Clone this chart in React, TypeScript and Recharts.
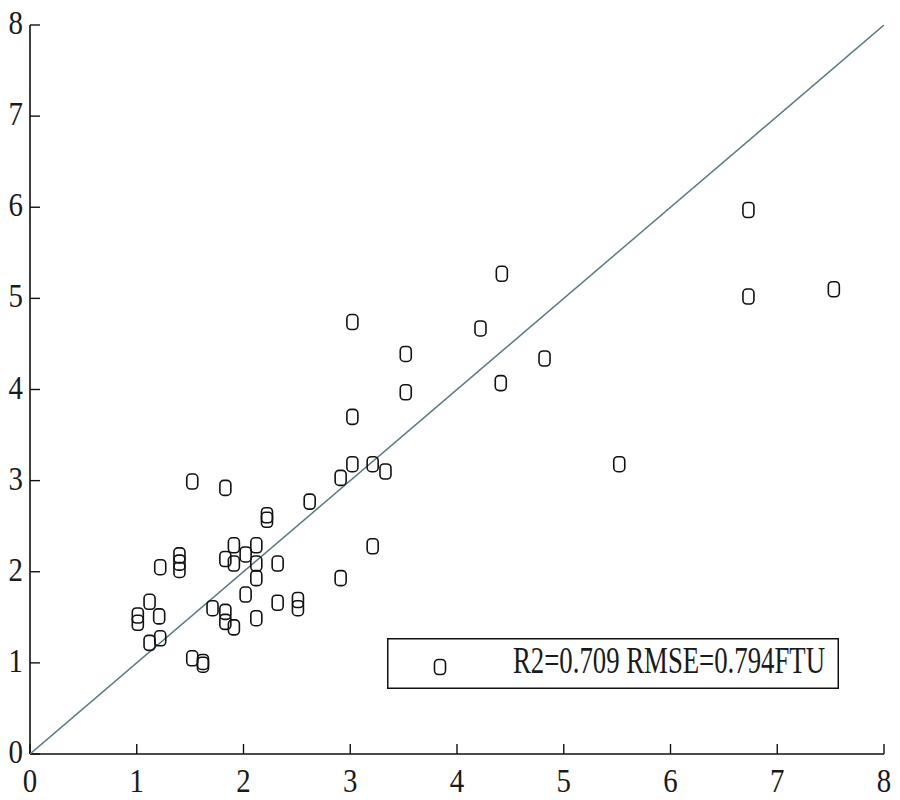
import {
  ScatterChart,
  Scatter,
  XAxis,
  YAxis,
  Legend,
} from "recharts";

// measured (x) vs retrieved (y) turbidity, FTU
const measured = [
  1.01, 1.01, 1.12, 1.12, 1.21, 1.22, 1.22, 1.4, 1.4, 1.4,
  1.52, 1.52, 1.62, 1.62, 1.71, 1.83, 1.83, 1.83, 1.83, 1.91,
  1.91, 1.91, 2.02, 2.02, 2.12, 2.12, 2.12, 2.12, 2.22, 2.22,
  2.32, 2.32, 2.51, 2.51, 2.62, 2.91, 2.91, 3.02, 3.02, 3.02,
  3.21, 3.21, 3.33, 3.52, 3.52, 4.22, 4.42, 4.41, 4.82, 5.52,
  6.73, 6.73, 7.53,
];
const retrieved = [
  1.52, 1.44, 1.67, 1.22, 1.51, 1.27, 2.05, 2.18, 2.1, 2.02,
  2.99, 1.05, 1.01, 0.98, 1.6, 2.92, 2.14, 1.56, 1.45, 2.29,
  2.09, 1.39, 2.19, 1.75, 2.29, 2.09, 1.93, 1.49, 2.62, 2.57,
  2.09, 1.66, 1.69, 1.6, 2.77, 3.03, 1.93, 4.74, 3.7, 3.18,
  3.18, 2.28, 3.1, 4.39, 3.97, 4.67, 5.27, 4.07, 4.34, 3.18,
  5.97, 5.02, 5.1,
];
const lineX = [0, 8];
const lineY = [0, 8];
const ticks = [0, 1, 2, 3, 4, 5, 6, 7, 8];
const legendLabel = "R2=0.709 RMSE=0.794FTU";

const points = measured.map((x, i) => ({ x, y: retrieved[i] }));
const diagonal = lineX.map((x, i) => ({ x, y: lineY[i] }));

const FONT = "'Liberation Serif', 'Times New Roman', serif";

const Marker = (props: any) => {
  const { cx, cy } = props;
  if (cx == null || cy == null) return <g />;
  return (
    <rect
      x={cx - 5.5}
      y={cy - 7.5}
      width={11}
      height={15}
      rx={4}
      fill="none"
      stroke="#111"
      strokeWidth={1.6}
    />
  );
};

const XTick = ({ x, y, payload }: any) => (
  <text
    x={0}
    y={0}
    transform={`translate(${x},${y + 38}) scale(0.85,1)`}
    textAnchor="middle"
    fontFamily={FONT}
    fontSize={34}
    fill="#1a1a1a"
  >
    {payload.value}
  </text>
);

const YTick = ({ x, y, payload }: any) => (
  <text
    x={0}
    y={0}
    transform={`translate(${x - 7},${y + 9}) scale(0.85,1)`}
    textAnchor="end"
    fontFamily={FONT}
    fontSize={34}
    fill="#1a1a1a"
  >
    {payload.value}
  </text>
);

const NoTick = () => <g />;

const renderLegend = () => (
  <svg width={452} height={51} style={{ display: "block" }}>
    <rect
      x={0.75}
      y={0.75}
      width={450.5}
      height={49.5}
      fill="#fff"
      stroke="#111"
      strokeWidth={1.5}
    />
    <rect
      x={47.5}
      y={21.5}
      width={11}
      height={15}
      rx={4}
      fill="none"
      stroke="#111"
      strokeWidth={1.6}
    />
    <text
      x={126}
      y={35}
      textLength={312}
      lengthAdjust="spacingAndGlyphs"
      fontFamily={FONT}
      fontSize={37}
      fill="#1a1a1a"
    >
      {legendLabel}
    </text>
  </svg>
);

const axisLine = { stroke: "#111", strokeWidth: 1.6 };
const tickLine = { stroke: "#111", strokeWidth: 1.4 };

export default function App() {
  return (
    <ScatterChart
      width={884}
      height={792}
      margin={{ top: 17, right: 8, left: 0, bottom: 0 }}
    >
      <XAxis
        type="number"
        dataKey="x"
        domain={[0, 8]}
        ticks={ticks}
        height={46}
        tickSize={-10}
        tickMargin={10}
        axisLine={axisLine}
        tickLine={tickLine}
        tick={<XTick />}
        allowDataOverflow
      />
      <YAxis
        type="number"
        dataKey="y"
        domain={[0, 8]}
        ticks={ticks}
        width={22}
        tickSize={-10}
        tickMargin={10}
        axisLine={axisLine}
        tickLine={tickLine}
        tick={<YTick />}
        allowDataOverflow
      />
      <XAxis
        xAxisId="top"
        orientation="top"
        type="number"
        dataKey="x"
        domain={[0, 8]}
        ticks={ticks}
        height={0}
        tickSize={-10}
        axisLine={axisLine}
        tickLine={tickLine}
        tick={<NoTick />}
        allowDataOverflow
      />
      <YAxis
        yAxisId="right"
        orientation="right"
        type="number"
        dataKey="y"
        domain={[0, 8]}
        ticks={ticks}
        width={0}
        tickSize={-10}
        axisLine={axisLine}
        tickLine={tickLine}
        tick={<NoTick />}
        allowDataOverflow
      />
      <Scatter
        data={diagonal}
        xAxisId="top"
        yAxisId="right"
        line={{ stroke: "#5c7883", strokeWidth: 1.5 }}
        shape={<NoTick />}
        legendType="none"
        isAnimationActive={false}
      />
      <Scatter
        data={points}
        shape={<Marker />}
        isAnimationActive={false}
      />
      <Legend
        layout="horizontal"
        verticalAlign="middle"
        align="center"
        content={renderLegend}
        wrapperStyle={{ left: 379, top: 630, width: 452, height: 51 }}
      />
    </ScatterChart>
  );
}
